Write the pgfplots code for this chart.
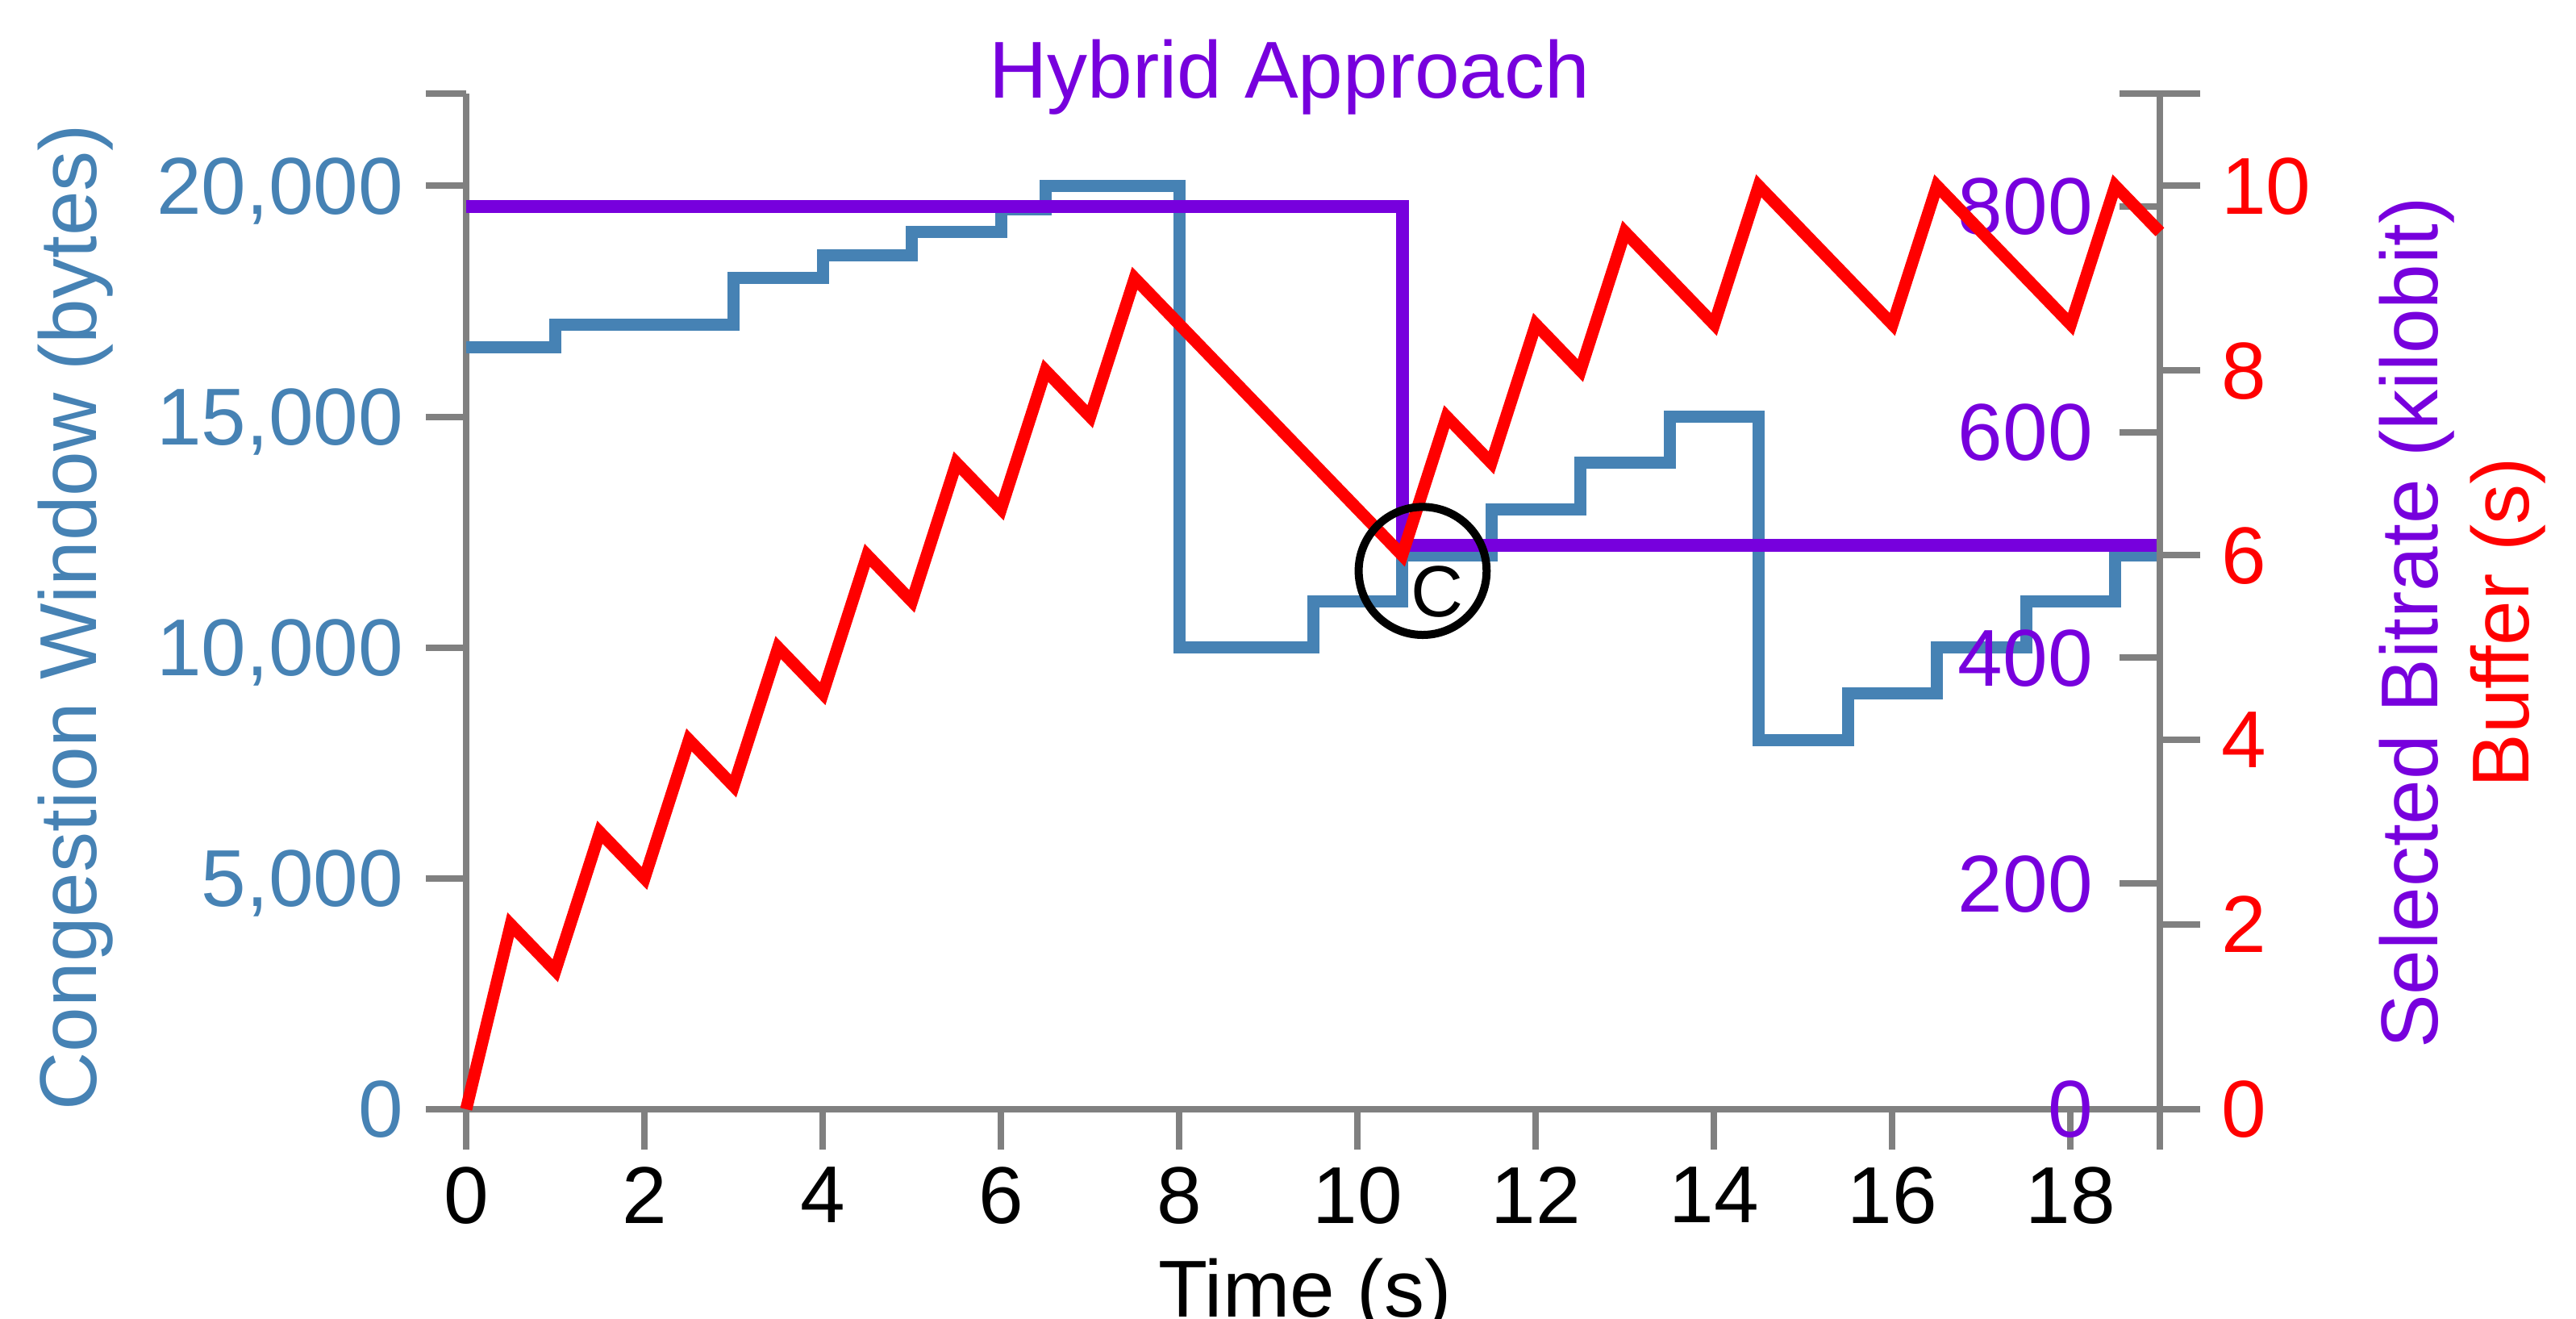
\documentclass[border=0pt]{standalone}
\usepackage{fontspec}
\setmainfont{Liberation Sans}
\usepackage{pgfplots}
\pgfplotsset{compat=1.18}
\definecolor{cwblue}{RGB}{70,130,180}
\definecolor{brpurple}{RGB}{119,0,221}
\definecolor{bfred}{RGB}{255,0,0}
\definecolor{axgray}{RGB}{128,128,128}
\newcommand\ff{\fontsize{15pt}{18pt}\selectfont}
\pgfplotsset{
  base/.style={
    width=315pt, height=188.85pt, scale only axis,
    at={(0,0)}, anchor=south west,
    xmin=0, xmax=19, clip=false,
    /pgf/number format/assume math mode=true,
    tick label style={font=\ff, inner sep=0pt, text depth=0pt},
    axis line style={draw=axgray, line width=1.2pt, -},
    major tick style={draw=axgray, line width=1.2pt},
    major tick length=7.5pt,
    scaled ticks=false,
  }
}
\pgfplotstableread{
x cw
0 16500
1 17000
3 18000
4 18500
5 19000
6 19500
6.5 20000
8 10000
9.5 11000
10.5 12000
11.5 13000
12.5 14000
13.5 15000
14.5 8000
15.5 9000
16.5 10000
17.5 11000
18.5 12000
19 12000
}\cwtable
\pgfplotstableread{
x br
0 800
10.5 500
19 500
}\brtable
\pgfplotstableread{
x buf
0 0
0.5 2
1 1.5
1.5 3
2 2.5
2.5 4
3 3.5
3.5 5
4 4.5
4.5 6
5 5.5
5.5 7
6 6.5
6.5 8
7 7.5
7.5 9
10.5 6
11 7.5
11.5 7
12 8.5
12.5 8
13 9.5
14 8.5
14.5 10
16 8.5
16.5 10
18 8.5
18.5 10
19 9.5
}\buftable
\begin{document}
\begin{tikzpicture}
\begin{axis}[base,
  axis x line*=bottom, axis y line*=left,
  ymin=0, ymax=22000,
  xtick={0,2,...,18}, extra x ticks={19}, extra x tick labels={},
  ytick={0,5000,10000,15000,20000}, extra y ticks={22000}, extra y tick labels={},
  tick align=outside,
  yticklabel style={text=cwblue, anchor=east, xshift=-4pt},
  xticklabel style={text=black, anchor=north, yshift=-3pt},
  /pgf/number format/1000 sep={,},
]
\addplot[const plot, cwblue, line width=2.25pt] table[x=x,y=cw] {\cwtable};
\end{axis}
\begin{axis}[base,
  hide x axis, axis y line*=right,
  ymin=0, ymax=900,
  ytick={0,200,...,800}, extra y ticks={900}, extra y tick labels={},
  tick align=inside,
  yticklabel style={text=brpurple, anchor=east, xshift=-12.3pt},
]
\addplot[const plot, brpurple, line width=2.4pt] table[x=x,y=br] {\brtable};
\end{axis}
\begin{axis}[base,
  hide x axis, axis y line*=right,
  ymin=0, ymax=11,
  ytick={0,2,...,10}, extra y ticks={11}, extra y tick labels={},
  tick align=outside,
  yticklabel style={text=bfred, anchor=west, xshift=3.7pt},
]
\addplot[bfred, line width=2.25pt, line join=miter] table[x=x,y=buf] {\buftable};
\draw[black, line width=1.5pt] (axis cs:10.73,5.83) circle[radius=11.9pt];
\node[font=\fontsize{13.5pt}{16pt}\selectfont, inner sep=0pt] at (axis cs:10.89,5.6) {C};
\end{axis}
\node[rotate=90, anchor=base, text=cwblue, font=\ff] at (-68.7pt,91.5pt) {Congestion Window (bytes)};
\node[rotate=90, anchor=base, text=brpurple, font=\ff] at (366.6pt,90.45pt) {Selected Bitrate (kilobit)};
\node[rotate=90, anchor=base, text=bfred, font=\ff] at (383.55pt,90.45pt) {Buffer (s)};
\node[anchor=base, font=\ff] at (156pt,-38.7pt) {Time (s)};
\node[anchor=base, text=brpurple, font=\ff] at (153.15pt,187.95pt) {Hybrid Approach};
\pgfresetboundingbox
\path[use as bounding box] (-86.7pt,-39pt) rectangle (392.4pt,206.25pt);
\end{tikzpicture}
\end{document}
